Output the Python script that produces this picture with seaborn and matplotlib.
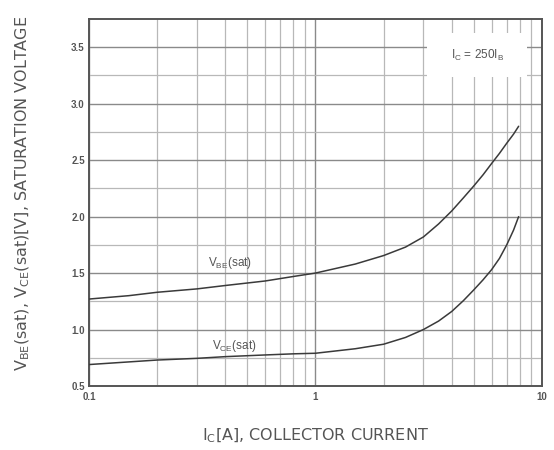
import numpy as np
import pandas as pd
import matplotlib
matplotlib.use('Agg')
import matplotlib.pyplot as plt
import seaborn as sns
from matplotlib.patches import Rectangle
from matplotlib.ticker import FixedLocator, NullFormatter

# data
ic_vbe = [0.1, 0.15, 0.2, 0.3, 0.4, 0.6, 0.8, 1.0, 1.5, 2.0, 2.5, 3.0, 3.5, 4.0,
          4.5, 5.0, 5.5, 6.0, 6.5, 7.0, 7.5, 7.9]
vbe_sat = [1.27, 1.30, 1.33, 1.36, 1.39, 1.43, 1.47, 1.50, 1.58, 1.655, 1.73, 1.82, 1.935, 2.05,
           2.165, 2.27, 2.37, 2.47, 2.56, 2.65, 2.73, 2.80]

ic_vce = [0.1, 0.2, 0.3, 0.4, 0.6, 0.8, 1.0, 1.5, 2.0, 2.5, 3.0, 3.5, 4.0,
          4.5, 5.0, 5.5, 6.0, 6.5, 7.0, 7.5, 7.9]
vce_sat = [0.69, 0.73, 0.745, 0.76, 0.775, 0.785, 0.79, 0.83, 0.87, 0.93, 1.00, 1.075, 1.16,
           1.255, 1.35, 1.44, 1.53, 1.63, 1.75, 1.88, 2.00]

y_ticks = [0.5, 1.0, 1.5, 2.0, 2.5, 3.0, 3.5]
x_ticks = [0.1, 1, 10]
x_tick_labels = ['0.1', '1', '10']

df = pd.concat([
    pd.DataFrame({'ic': ic_vbe, 'v': vbe_sat, 'curve': 'VBE'}),
    pd.DataFrame({'ic': ic_vce, 'v': vce_sat, 'curve': 'VCE'}),
])

sns.set_style('white')
plt.rcParams['font.family'] = ['Liberation Sans', 'DejaVu Sans']
txt_color = '#555555'

fig = plt.figure(figsize=(5.54, 4.5), dpi=100)
ax = fig.add_axes([0.1606, 0.1422, 0.8174, 0.8156])

ax.set_xscale('log')
ax.set_xlim(0.1, 10)
ax.set_ylim(0.5, 3.75)

# grid lines
minor_x = [m * d for d in (0.1, 1) for m in range(2, 10)]
ax.xaxis.set_minor_locator(FixedLocator(minor_x))
ax.xaxis.set_minor_formatter(NullFormatter())
ax.yaxis.set_minor_locator(FixedLocator(np.arange(0.75, 3.75, 0.5)))
ax.grid(True, which='major', color='#8a8a8a', linewidth=1.0)
ax.grid(True, which='minor', color='#b8b8b8', linewidth=0.9)
ax.set_axisbelow(True)

# white box behind the condition note
ax.add_patch(Rectangle((0.746, 0.842), 0.221, 0.12, transform=ax.transAxes,
                       fc='white', ec='none', zorder=1.5))

sns.lineplot(data=df, x='ic', y='v', hue='curve', palette=['#3a3a3a', '#3a3a3a'],
             linewidth=1.1, legend=False, ax=ax, sort=True, zorder=3)

ax.set_xticks(x_ticks)
ax.set_xticklabels(x_tick_labels)
ax.set_yticks(y_ticks)
ax.set_yticklabels([f'{t:.1f}' for t in y_ticks])
ax.tick_params(axis='both', which='both', length=0, labelsize=7, labelcolor=txt_color)
for lab in ax.get_xticklabels() + ax.get_yticklabels():
    lab.set_fontweight('bold')
ax.tick_params(axis='x', pad=4)
ax.tick_params(axis='y', pad=3)

for s in ax.spines.values():
    s.set_color(txt_color)
    s.set_linewidth(1.4)

ax.text(0.857, 0.902, r'I$_\mathregular{C}$ = 250I$_\mathregular{B}$', transform=ax.transAxes,
        ha='center', va='center', fontsize=8.5, color=txt_color, zorder=4)

ax.text(0.42, 1.585, r'V$_\mathregular{BE}$(sat)', ha='center', va='center',
        fontsize=8.5, color=txt_color)
ax.text(0.44, 0.85, r'V$_\mathregular{CE}$(sat)', ha='center', va='center',
        fontsize=8.5, color=txt_color)

ax.set_xlabel(r'I$_\mathregular{C}$[A], COLLECTOR CURRENT', fontsize=11.5, color=txt_color,
              labelpad=18, family=['DejaVu Sans'])
ax.set_ylabel(r'V$_\mathregular{BE}$(sat), V$_\mathregular{CE}$(sat)[V], SATURATION VOLTAGE',
              fontsize=11.5, color=txt_color, family=['DejaVu Sans'])
ax.yaxis.set_label_coords(-0.125, 0.525)

fig.savefig('out.png', dpi=100)
